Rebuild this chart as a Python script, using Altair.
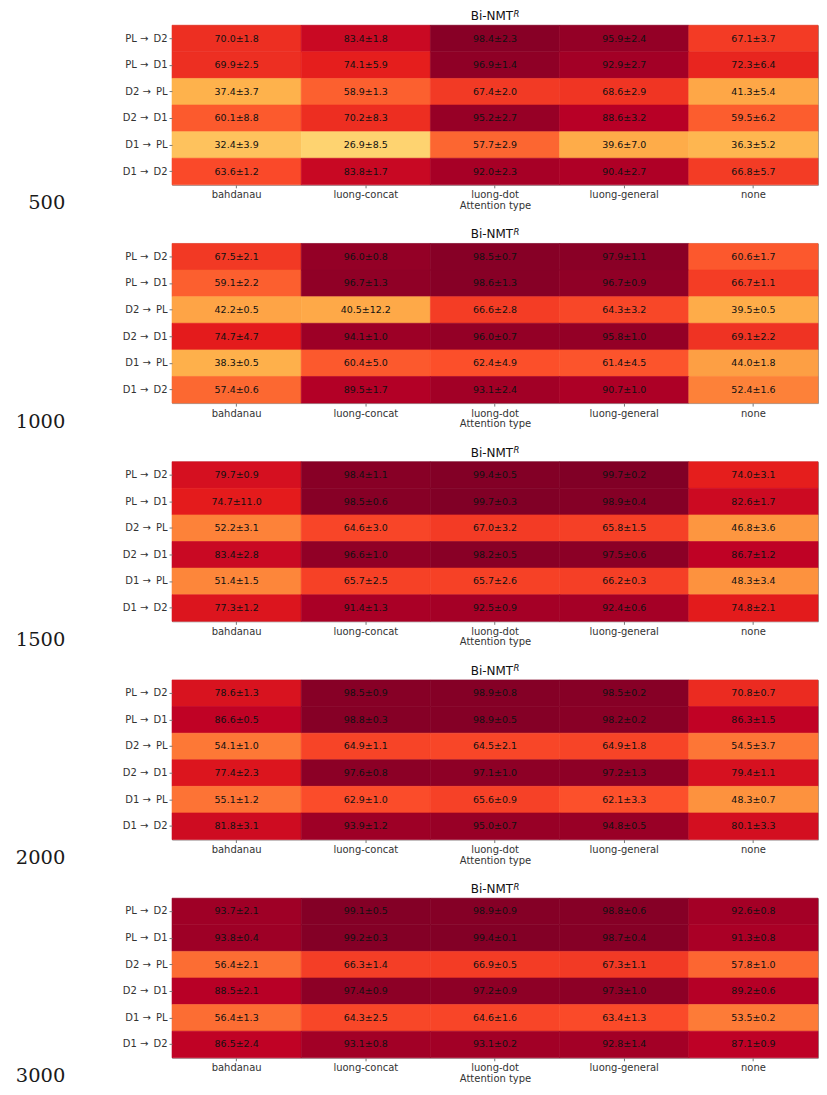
import altair as alt
import pandas as pd

sizes = ["500", "1000", "1500", "2000", "3000"]
directions = ["PL →\u2009 D2", "PL →\u2009 D1", "D2 →\u2009 PL", "D2 →\u2009 D1", "D1 →\u2009 PL", "D1 →\u2009 D2"]
attention_types = ["bahdanau", "luong-concat", "luong-dot", "luong-general", "none"]

# rows follow `directions`, columns follow `attention_types`
means_500 = [
    [70.0, 83.4, 98.4, 95.9, 67.1],
    [69.9, 74.1, 96.9, 92.9, 72.3],
    [37.4, 58.9, 67.4, 68.6, 41.3],
    [60.1, 70.2, 95.2, 88.6, 59.5],
    [32.4, 26.9, 57.7, 39.6, 36.3],
    [63.6, 83.8, 92.0, 90.4, 66.8],
]
stds_500 = [
    [1.8, 1.8, 2.3, 2.4, 3.7],
    [2.5, 5.9, 1.4, 2.7, 6.4],
    [3.7, 1.3, 2.0, 2.9, 5.4],
    [8.8, 8.3, 2.7, 3.2, 6.2],
    [3.9, 8.5, 2.9, 7.0, 5.2],
    [1.2, 1.7, 2.3, 2.7, 5.7],
]
means_1000 = [
    [67.5, 96.0, 98.5, 97.9, 60.6],
    [59.1, 96.7, 98.6, 96.7, 66.7],
    [42.2, 40.5, 66.6, 64.3, 39.5],
    [74.7, 94.1, 96.0, 95.8, 69.1],
    [38.3, 60.4, 62.4, 61.4, 44.0],
    [57.4, 89.5, 93.1, 90.7, 52.4],
]
stds_1000 = [
    [2.1, 0.8, 0.7, 1.1, 1.7],
    [2.2, 1.3, 1.3, 0.9, 1.1],
    [0.5, 12.2, 2.8, 3.2, 0.5],
    [4.7, 1.0, 0.7, 1.0, 2.2],
    [0.5, 5.0, 4.9, 4.5, 1.8],
    [0.6, 1.7, 2.4, 1.0, 1.6],
]
means_1500 = [
    [79.7, 98.4, 99.4, 99.7, 74.0],
    [74.7, 98.5, 99.7, 98.9, 82.6],
    [52.2, 64.6, 67.0, 65.8, 46.8],
    [83.4, 96.6, 98.2, 97.5, 86.7],
    [51.4, 65.7, 65.7, 66.2, 48.3],
    [77.3, 91.4, 92.5, 92.4, 74.8],
]
stds_1500 = [
    [0.9, 1.1, 0.5, 0.2, 3.1],
    [11.0, 0.6, 0.3, 0.4, 1.7],
    [3.1, 3.0, 3.2, 1.5, 3.6],
    [2.8, 1.0, 0.5, 0.6, 1.2],
    [1.5, 2.5, 2.6, 0.3, 3.4],
    [1.2, 1.3, 0.9, 0.6, 2.1],
]
means_2000 = [
    [78.6, 98.5, 98.9, 98.5, 70.8],
    [86.6, 98.8, 98.9, 98.2, 86.3],
    [54.1, 64.9, 64.5, 64.9, 54.5],
    [77.4, 97.6, 97.1, 97.2, 79.4],
    [55.1, 62.9, 65.6, 62.1, 48.3],
    [81.8, 93.9, 95.0, 94.8, 80.1],
]
stds_2000 = [
    [1.3, 0.9, 0.8, 0.2, 0.7],
    [0.5, 0.3, 0.5, 0.2, 1.5],
    [1.0, 1.1, 2.1, 1.8, 3.7],
    [2.3, 0.8, 1.0, 1.3, 1.1],
    [1.2, 1.0, 0.9, 3.3, 0.7],
    [3.1, 1.2, 0.7, 0.5, 3.3],
]
means_3000 = [
    [93.7, 99.1, 98.9, 98.8, 92.6],
    [93.8, 99.2, 99.4, 98.7, 91.3],
    [56.4, 66.3, 66.9, 67.3, 57.8],
    [88.5, 97.4, 97.2, 97.3, 89.2],
    [56.4, 64.3, 64.6, 63.4, 53.5],
    [86.5, 93.1, 93.1, 92.8, 87.1],
]
stds_3000 = [
    [2.1, 0.5, 0.9, 0.6, 0.8],
    [0.4, 0.3, 0.1, 0.4, 0.8],
    [2.1, 1.4, 0.5, 1.1, 1.0],
    [2.1, 0.9, 0.9, 1.0, 0.6],
    [1.3, 2.5, 1.6, 1.3, 0.2],
    [2.4, 0.8, 0.2, 1.4, 0.9],
]

panel_title = "Bi-NMT"
panel_title_sup = "R"
x_title = "Attention type"

ylorrd = ["#ffffcc", "#ffeda0", "#fed976", "#feb24c", "#fd8d3c",
          "#fc4e2a", "#e31a1c", "#bd0026", "#800026"]
color_domain = [0, 12.5, 25, 37.5, 50, 62.5, 75, 87.5, 100]

all_means = [means_500, means_1000, means_1500, means_2000, means_3000]
all_stds = [stds_500, stds_1000, stds_1500, stds_2000, stds_3000]

W, H = 647.5, 160


def make_panel(size, means, stds):
    rows = []
    for i, d in enumerate(directions):
        for j, a in enumerate(attention_types):
            rows.append({
                "direction": d,
                "attention": a,
                "mean": means[i][j],
                "label": f"{means[i][j]:.1f}±{stds[i][j]:.1f}",
            })
    df = pd.DataFrame(rows)
    base = alt.Chart(df)
    x = alt.X("attention:N", sort=attention_types,
              scale=alt.Scale(paddingInner=0, paddingOuter=0),
              axis=alt.Axis(title=x_title, labelAngle=0, orient="bottom"))
    y = alt.Y("direction:N", sort=directions,
              scale=alt.Scale(paddingInner=0, paddingOuter=0),
              axis=alt.Axis(title=None))
    cscale = alt.Scale(domain=color_domain, range=ylorrd, interpolate="rgb", clamp=True)
    rect = base.mark_rect(strokeWidth=0.6).encode(
        x=x, y=y,
        color=alt.Color("mean:Q", legend=None, scale=cscale),
        stroke=alt.Stroke("mean:Q", legend=None, scale=cscale),
    )
    text = base.mark_text(fontSize=9.5, color="#111", font="DejaVu Sans").encode(
        x=x, y=y, text="label:N")
    t_main = alt.Chart(pd.DataFrame({"t": [panel_title]})).mark_text(
        align="left", baseline="alphabetic", fontSize=12, font="DejaVu Sans", color="#111"
    ).encode(x=alt.value(W / 2 - 24.4), y=alt.value(-5), text="t:N")
    t_sup = alt.Chart(pd.DataFrame({"t": [panel_title_sup]})).mark_text(
        align="left", baseline="alphabetic", fontSize=8.5, fontStyle="italic",
        font="DejaVu Sans", color="#111"
    ).encode(x=alt.value(W / 2 + 18.6), y=alt.value(-8.5), text="t:N")
    lab = alt.Chart(pd.DataFrame({"s": [size]})).mark_text(
        align="right", baseline="alphabetic", fontSize=19.5, font="DejaVu Serif",
        color="#1a1a1a"
    ).encode(x=alt.value(-107), y=alt.value(H + 24.5), text="s:N")
    return alt.layer(rect, text, t_main, t_sup, lab).properties(width=W, height=H)


panels = [make_panel(s, m, sd) for s, m, sd in zip(sizes, all_means, all_stds)]

chart = alt.vconcat(*panels, spacing=58.75, bounds="flush").properties(
    padding={"left": 6.4, "top": 0, "right": 0, "bottom": 0}
).configure_view(stroke="#999", strokeWidth=1).configure_axis(
    labelFont="DejaVu Sans", titleFont="DejaVu Sans",
    labelFontSize=10, titleFontSize=10, titleFontWeight="normal",
    labelColor="#333", titleColor="#333",
    tickSize=3, tickColor="#777", labelPadding=2, titlePadding=0.5,
    domain=False, grid=False,
)

chart.save("out.html", embed_options={"renderer": "svg", "actions": False})
